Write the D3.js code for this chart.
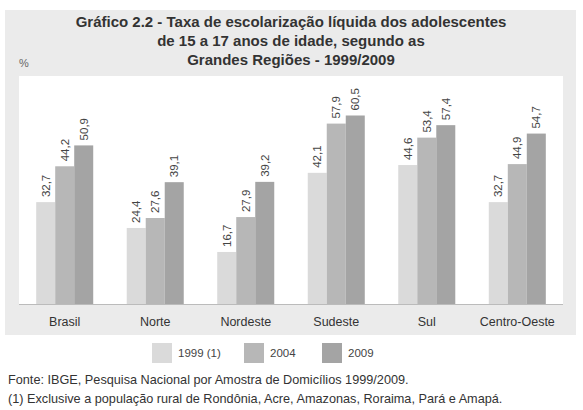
<!DOCTYPE html>
<html>
<head>
<meta charset="utf-8">
<script src="https://cdn.jsdelivr.net/npm/d3@7"></script>
<style>
  body { margin: 0; background: #fff; }
  svg { display: block; font-family: "Liberation Sans", Arial, sans-serif; }
</style>
</head>
<body>
<div id="chart"></div>
<script>
var width = 583,
    height = 410;

// chart data
var regioes = ["Brasil", "Norte", "Nordeste", "Sudeste", "Sul", "Centro-Oeste"];
var anos = ["1999 (1)", "2004", "2009"];
var v1999 = [32.7, 24.4, 16.7, 42.1, 44.6, 32.7];
var v2004 = [44.2, 27.6, 27.9, 57.9, 53.4, 44.9];
var v2009 = [50.9, 39.1, 39.2, 60.5, 57.4, 54.7];
var titulo = ["Gráfico 2.2 - Taxa de escolarização líquida dos adolescentes",
              "de 15 a 17 anos de idade, segundo as",
              "Grandes Regiões - 1999/2009"];
var notas = ["Fonte: IBGE, Pesquisa Nacional por Amostra de Domicílios 1999/2009.",
             "(1) Exclusive a população rural de Rondônia, Acre, Amazonas, Roraima, Pará e Amapá."];

var series = [v1999, v2004, v2009];
var cores = ["#dadada", "#b7b7b7", "#a4a4a4"];

var svg = d3.select("#chart").append("svg")
    .attr("width", width)
    .attr("height", height);

// gray panel and white plot area
svg.append("rect")
    .attr("x", 5).attr("y", 10)
    .attr("width", 571).attr("height", 325)
    .attr("fill", "#ebebeb");

var plotL = 19, plotR = 563, plotT = 76, plotB = 304;

svg.append("rect")
    .attr("x", plotL).attr("y", plotT)
    .attr("width", plotR - plotL).attr("height", plotB - plotT)
    .attr("fill", "#ffffff");

// scales
var x0 = d3.scaleBand()
    .domain(regioes)
    .range([plotL, plotR])
    .paddingInner(0.37)
    .paddingOuter(0.19);

var x1 = d3.scaleBand()
    .domain(d3.range(series.length))
    .range([0, x0.bandwidth()]);

var y = d3.scaleLinear()
    .domain([0, 60.5])
    .range([plotB, 115.5]);

// title
svg.append("g").selectAll("text")
    .data(titulo).enter()
    .append("text")
    .attr("x", 291)
    .attr("y", function(d, i) { return 27 + i * 19; })
    .attr("text-anchor", "middle")
    .attr("font-size", "15px")
    .attr("font-weight", "bold")
    .attr("fill", "#333")
    .text(function(d) { return d; });

svg.append("text")
    .attr("x", 19).attr("y", 67)
    .attr("font-size", "11px")
    .attr("fill", "#666")
    .text("%");

// bars
var grupos = svg.append("g").selectAll("g")
    .data(regioes).enter()
    .append("g")
    .attr("transform", function(d) { return "translate(" + x0(d) + ",0)"; });

grupos.selectAll("rect")
    .data(function(d, i) { return series.map(function(s, k) { return {k: k, v: s[i]}; }); })
    .enter().append("rect")
    .attr("x", function(d) { return x1(d.k); })
    .attr("y", function(d) { return y(d.v); })
    .attr("width", x1.bandwidth())
    .attr("height", function(d) { return plotB - y(d.v); })
    .attr("fill", function(d) { return cores[d.k]; });

// value labels (rotated)
grupos.selectAll("text")
    .data(function(d, i) { return series.map(function(s, k) { return {k: k, v: s[i]}; }); })
    .enter().append("text")
    .attr("transform", function(d) {
        return "translate(" + (x1(d.k) + x1.bandwidth() / 2 + 4) + "," + (y(d.v) - 5) + ") rotate(-90)";
    })
    .attr("font-size", "11.5px")
    .attr("fill", "#444")
    .text(function(d) { return d3.format(".1f")(d.v).replace(".", ","); });

// baseline
svg.append("line")
    .attr("x1", plotL).attr("x2", plotR)
    .attr("y1", plotB + 0.5).attr("y2", plotB + 0.5)
    .attr("stroke", "#bbb")
    .attr("stroke-width", 1);

// category axis
var eixo = svg.append("g")
    .attr("transform", "translate(0," + plotB + ")")
    .call(d3.axisBottom(x0).tickSize(0).tickPadding(13));
eixo.select(".domain").remove();
eixo.selectAll("text")
    .attr("font-size", "12.5px")
    .attr("font-family", "Liberation Sans, Arial, sans-serif")
    .attr("fill", "#333");

// legend
var legX = [152, 244, 322];
var leg = svg.append("g").selectAll("g")
    .data(anos).enter()
    .append("g")
    .attr("transform", function(d, i) { return "translate(" + legX[i] + ",343)"; });

leg.append("rect")
    .attr("width", 20).attr("height", 20)
    .attr("fill", function(d, i) { return cores[i]; });

leg.append("text")
    .attr("x", 26).attr("y", 14)
    .attr("font-size", "11.5px")
    .attr("fill", "#444")
    .text(function(d) { return d; });

// footnotes
svg.append("g").selectAll("text")
    .data(notas).enter()
    .append("text")
    .attr("x", 8)
    .attr("y", function(d, i) { return 384 + i * 18.5; })
    .attr("font-size", "12.7px")
    .attr("fill", "#333")
    .text(function(d) { return d; });
</script>
</body>
</html>
